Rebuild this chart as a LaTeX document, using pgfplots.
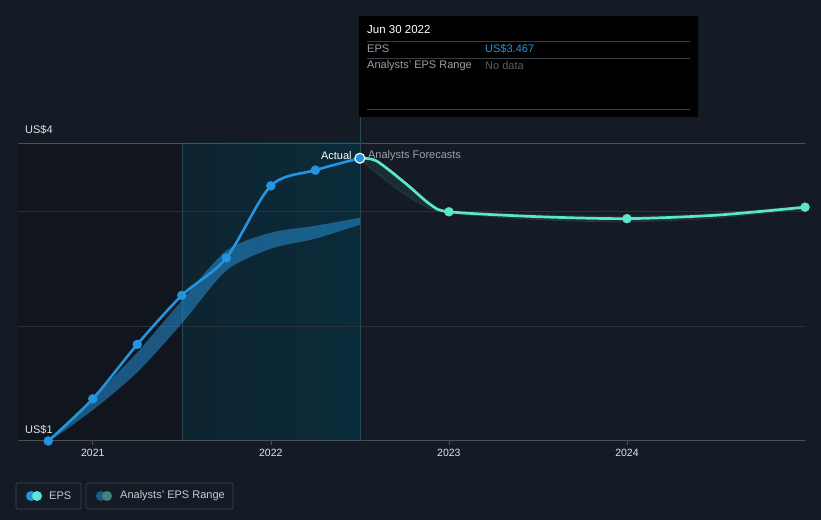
\documentclass[border=0pt]{standalone}
\usepackage{pgfplots}
\pgfplotsset{compat=1.18}
\usepackage{fontspec}
\setmainfont{Liberation Sans}
\definecolor{bg}{HTML}{151B25}
\definecolor{darkleft}{HTML}{11151D}
\definecolor{tealL}{HTML}{0E2430}
\definecolor{tealR}{HTML}{0A2B3A}
\definecolor{gridc}{HTML}{2A313B}
\definecolor{axisc}{HTML}{4B5058}
\definecolor{epsblue}{HTML}{2394DF}
\definecolor{epsteal}{HTML}{5BE6CD}
\definecolor{bandblue}{HTML}{2384C4}
\definecolor{bandteal}{HTML}{3A7F7A}
\definecolor{ticktext}{HTML}{E0E2E5}
\definecolor{graytext}{HTML}{9BA0A6}
\definecolor{nodata}{HTML}{5E5E5E}
\definecolor{legtext}{HTML}{C8CBD0}
\definecolor{legborder}{HTML}{3A3F48}
\definecolor{legdblue}{HTML}{1F5A85}
\definecolor{legdteal}{HTML}{3F847C}
\definecolor{vline}{HTML}{2A4756}
\newcommand{\fs}[1]{\fontsize{#1bp}{#1bp}\selectfont}
\begin{document}
\begin{tikzpicture}
\fill[bg] (0,0) rectangle (821bp,520bp);
% background regions (axis spans x 18..805, y 79..377)
\fill[darkleft] (18bp,79bp) rectangle (181.8bp,377bp);
\shade[left color=tealL, right color=tealR] (181.8bp,79bp) rectangle (359.9bp,377bp);
\draw[vline, line width=0.6bp] (181.8bp,79bp) -- (181.8bp,377bp);
% grid lines
\draw[gridc, line width=0.8bp] (18bp,193.6bp) -- (805bp,193.6bp);
\draw[gridc, line width=0.8bp] (18bp,308.2bp) -- (805bp,308.2bp);
\draw[axisc, line width=0.8bp] (18bp,377bp) -- (805bp,377bp);
\draw[axisc, line width=1bp] (18bp,79bp) -- (805bp,79bp);
\draw[vline, line width=0.8bp] (359.9bp,79bp) -- (359.9bp,403bp);
\begin{axis}[
  at={(18bp,79bp)}, anchor=south west,
  scale only axis, width=787bp, height=298bp,
  xmin=0.58, xmax=5, ymin=1, ymax=3.6,
  axis line style={draw=none},
  xtick={1,2,3,4},
  xticklabels={2021,2022,2023,2024},
  xtick pos=left, tick align=outside,
  major tick length=4bp,
  tick style={draw=axisc, line width=0.6bp},
  xticklabel style={font=\fs{10.5}, text=ticktext, yshift=-1bp},
  ytick=\empty,
]
% analysts band (past): upper edge from the right end back, lower edge out again
\addplot[fill=bandblue, fill opacity=0.6, draw=none, smooth, tension=0.45] coordinates {
 (2.5,2.948) (2.25,2.878) (2,2.817) (1.75,2.661) (1.5,2.226) (1.25,1.774) (1,1.374) (0.75,1.0)
 (1,1.27) (1.25,1.60) (1.5,2.026) (1.75,2.487) (2,2.678) (2.25,2.765) (2.5,2.887)};
% analysts band (forecast)
\addplot[fill=bandteal, fill opacity=0.18, draw=none, smooth, tension=0.45] coordinates {
 (5,3.055) (4.5,2.992) (4,2.966) (3.5,2.978) (3,3.012) (2.893,3.08) (2.762,3.25) (2.594,3.45) (2.5,3.467)
 (2.556,3.385) (2.725,3.183) (2.85,3.06) (3,2.99) (3.5,2.932) (4,2.912) (4.5,2.946) (5,3.025)};
\addplot[bandteal!40!bg, line width=0.6bp, smooth, tension=0.5] coordinates {
 (2.5,3.467) (2.556,3.385) (2.725,3.183) (2.85,3.06) (3,2.99) (3.5,2.932) (4,2.912) (4.5,2.946) (5,3.025)};
% EPS actual
\addplot[epsblue, line width=2.6bp, smooth, tension=0.5] coordinates {
 (0.75,1.0) (1,1.368) (1.25,1.843) (1.5,2.27) (1.75,2.597) (2,3.226) (2.25,3.363) (2.5,3.467)};
% EPS forecast
\addplot[epsteal, line width=2.7bp, smooth, tension=0.45] coordinates {
 (2.5,3.467) (2.594,3.443) (2.762,3.241) (2.893,3.067) (3,3.0) (3.5,2.957) (4,2.94) (4.5,2.97) (5,3.04)};
% markers
\addplot[only marks, mark=*, mark size=4.5bp, mark options={fill=epsblue, draw=epsblue}] coordinates {
 (0.75,1.0) (1,1.368) (1.25,1.843) (1.5,2.27) (1.75,2.597) (2,3.226) (2.25,3.363)};
\addplot[only marks, mark=*, mark size=4.5bp, mark options={fill=epsteal, draw=epsteal}] coordinates {
 (3,3.0) (4,2.94) (5,3.04)};
\addplot[only marks, mark=*, mark size=5bp, mark options={fill=epsblue, draw=white, line width=1.1bp}] coordinates {
 (2.5,3.467)};
\node[anchor=east, inner sep=0, text=white, font=\fs{11}] at (axis cs:2.455,3.49) {Actual};
\node[anchor=west, inner sep=0, text=graytext, font=\fs{11}] at (axis cs:2.545,3.49) {Analysts Forecasts};
\end{axis}
% y labels
\node[anchor=west, inner sep=0, text=ticktext, font=\fs{11}] at (25bp,390bp) {US\$4};
\node[anchor=west, inner sep=0, text=ticktext, font=\fs{11}] at (25bp,90bp) {US\$1};
% tooltip
\fill[black] (359bp,403bp) rectangle (698bp,504bp);
\node[anchor=west, inner sep=0, text=white, font=\fs{11.5}] at (367bp,490bp) {Jun 30 2022};
\draw[legborder, line width=0.8bp] (367bp,479bp) -- (690bp,479bp);
\node[anchor=west, inner sep=0, text=graytext, font=\fs{11}] at (367bp,471bp) {EPS};
\node[anchor=west, inner sep=0, text=epsblue, font=\fs{11}] at (485bp,471bp) {US\$3.467};
\draw[legborder, line width=0.8bp] (367bp,462bp) -- (690bp,462bp);
\node[anchor=west, inner sep=0, text=graytext, font=\fs{11}] at (367bp,454bp) {Analysts' EPS Range};
\node[anchor=west, inner sep=0, text=nodata, font=\fs{11}] at (485bp,454bp) {No data};
\draw[legborder, line width=0.8bp] (367bp,411bp) -- (690bp,411bp);
% legend
\draw[legborder, line width=0.8bp, rounded corners=2bp] (16bp,11bp) rectangle (81bp,37bp);
\fill[epsblue] (31bp,24bp) circle (5bp);
\fill[epsteal] (37bp,24bp) circle (5bp);
\node[anchor=west, inner sep=0, text=legtext, font=\fs{11}] at (49bp,24bp) {EPS};
\draw[legborder, line width=0.8bp, rounded corners=2bp] (86bp,11bp) rectangle (233bp,37bp);
\fill[legdblue] (101bp,24bp) circle (5bp);
\fill[legdteal] (107bp,24bp) circle (5bp);
\node[anchor=west, inner sep=0, text=legtext, font=\fs{11}] at (120bp,24bp) {Analysts' EPS Range};
\pgfresetboundingbox
\useasboundingbox (0,0) rectangle (821bp,520bp);
\end{tikzpicture}
\end{document}
